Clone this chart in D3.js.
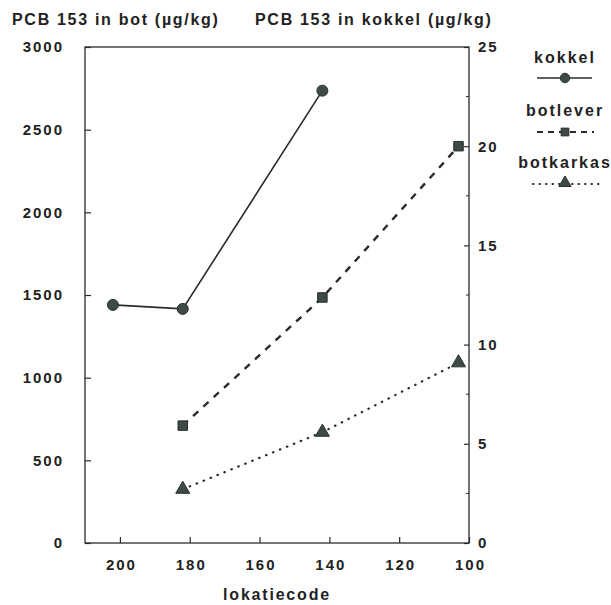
<!DOCTYPE html>
<html>
<head>
<meta charset="utf-8">
<script src="https://cdn.jsdelivr.net/npm/d3@7"></script>
<style>
  body { margin: 0; background: #fff; }
  svg text { font-family: "Liberation Sans", Arial, sans-serif; font-weight: bold; fill: #222; }
</style>
</head>
<body>
<svg id="chart" width="611" height="605"></svg>
<script>
// PCB153 concentrations per sampling location (lokatiecode)
const kokkelCodes = [202, 182, 142];
const kokkelValues = [12.0, 11.8, 22.8];          // µg/kg, right axis
const botleverCodes = [182, 142, 103];
const botleverValues = [710, 1485, 2400];         // µg/kg, left axis
const botkarkasCodes = [182, 142, 103];
const botkarkasValues = [325, 670, 1090];         // µg/kg, left axis

const xTicks = [200, 180, 160, 140, 120, 100];
const yLeftTicks = [0, 500, 1000, 1500, 2000, 2500, 3000];
const yRightTicks = [0, 5, 10, 15, 20, 25];
const yRightMinor = [2.5, 7.5, 12.5, 17.5, 22.5];

const svg = d3.select("#chart");
const ink = "#2b2b2b";
const markFill = "#3d4a45";
const fmt = d3.format("d");

const plotLeft = 85, plotRight = 469, plotTop = 47, plotBottom = 543;

const x = d3.scaleLinear().domain([210, 100]).range([plotLeft, plotRight]);
const yL = d3.scaleLinear().domain([0, 3000]).range([plotBottom, plotTop]);
const yR = d3.scaleLinear().domain([0, 25]).range([plotBottom, plotTop]);

// frame
svg.append("rect")
  .attr("x", plotLeft).attr("y", plotTop)
  .attr("width", plotRight - plotLeft).attr("height", plotBottom - plotTop)
  .attr("fill", "none").attr("stroke", ink).attr("stroke-width", 1.3);

const tickFont = g => g.selectAll("text")
  .style("font-size", "15px").style("letter-spacing", "2px")
  .style("font-family", "'Liberation Sans', Arial, sans-serif")
  .style("font-weight", "bold").attr("fill", "#222");

// bottom axis, ticks pointing inward
svg.append("g").attr("transform", `translate(0,${plotBottom})`)
  .call(d3.axisBottom(x).tickValues(xTicks).tickFormat(fmt).tickSizeInner(-6).tickSizeOuter(0).tickPadding(16))
  .call(g => g.select(".domain").remove())
  .call(g => g.selectAll("line").attr("stroke", ink).attr("stroke-width", 1.2))
  .call(tickFont)
  .call(g => g.selectAll("text").attr("dx", "1px"));

// left axis
svg.append("g").attr("transform", `translate(${plotLeft},0)`)
  .call(d3.axisLeft(yL).tickValues(yLeftTicks).tickFormat(fmt).tickSizeInner(-6).tickSizeOuter(0).tickPadding(21))
  .call(g => g.select(".domain").remove())
  .call(g => g.selectAll("line").attr("stroke", ink).attr("stroke-width", 1.2))
  .call(tickFont);

// right axis with minor ticks
svg.append("g").attr("transform", `translate(${plotRight},0)`)
  .call(d3.axisRight(yR).tickValues(yRightTicks).tickFormat(fmt).tickSizeInner(-5).tickSizeOuter(0).tickPadding(9))
  .call(g => g.select(".domain").remove())
  .call(g => g.selectAll("line").attr("stroke", ink).attr("stroke-width", 1.2))
  .call(tickFont);
svg.append("g").selectAll("line").data(yRightMinor).join("line")
  .attr("x1", plotRight).attr("x2", plotRight - 3)
  .attr("y1", d => yR(d)).attr("y2", d => yR(d))
  .attr("stroke", ink).attr("stroke-width", 1);

// axis titles
svg.append("text").attr("x", 12).attr("y", 25)
  .style("font-size", "16px").style("letter-spacing", "1.7px")
  .text("PCB 153 in bot (µg/kg)");
svg.append("text").attr("x", 255).attr("y", 25)
  .style("font-size", "16px").style("letter-spacing", "1.7px")
  .text("PCB 153 in kokkel (µg/kg)");
svg.append("text").attr("x", 277).attr("y", 600)
  .attr("text-anchor", "middle")
  .style("font-size", "16px").style("letter-spacing", "1.8px")
  .text("lokatiecode");

// series
const kokkel = kokkelCodes.map((c, i) => [c, kokkelValues[i]]);
const botlever = botleverCodes.map((c, i) => [c, botleverValues[i]]);
const botkarkas = botkarkasCodes.map((c, i) => [c, botkarkasValues[i]]);

svg.append("path").datum(kokkel)
  .attr("d", d3.line().x(d => x(d[0])).y(d => yR(d[1])))
  .attr("fill", "none").attr("stroke", ink).attr("stroke-width", 1.6);
svg.append("path").datum(botlever)
  .attr("d", d3.line().x(d => x(d[0])).y(d => yL(d[1])))
  .attr("fill", "none").attr("stroke", ink).attr("stroke-width", 2.4)
  .attr("stroke-dasharray", "7,7");
svg.append("path").datum(botkarkas)
  .attr("d", d3.line().x(d => x(d[0])).y(d => yL(d[1])))
  .attr("fill", "none").attr("stroke", ink).attr("stroke-width", 2.2)
  .attr("stroke-linecap", "round").attr("stroke-dasharray", "0.5,7");

const circ = d3.symbol().type(d3.symbolCircle).size(95);
const sq = d3.symbol().type(d3.symbolSquare).size(90);
const tri = d3.symbol().type(d3.symbolTriangle).size(85);
const circS = d3.symbol().type(d3.symbolCircle).size(70);
const sqS = d3.symbol().type(d3.symbolSquare).size(60);
const triS = d3.symbol().type(d3.symbolTriangle).size(65);

svg.append("g").selectAll("path").data(kokkel).join("path")
  .attr("transform", d => `translate(${x(d[0])},${yR(d[1])})`)
  .attr("d", circ).attr("fill", markFill).attr("stroke", "#2a302d").attr("stroke-width", 1);
svg.append("g").selectAll("path").data(botlever).join("path")
  .attr("transform", d => `translate(${x(d[0])},${yL(d[1])})`)
  .attr("d", sq).attr("fill", markFill).attr("stroke", "#2a302d").attr("stroke-width", 1);
svg.append("g").selectAll("path").data(botkarkas).join("path")
  .attr("transform", d => `translate(${x(d[0])},${yL(d[1])})`)
  .attr("d", tri).attr("fill", markFill).attr("stroke", "#2a302d").attr("stroke-width", 1);

// legend
const lx = 565;
const legend = svg.append("g");
const legendText = (y, label) => legend.append("text").attr("x", lx).attr("y", y)
  .attr("text-anchor", "middle")
  .style("font-size", "16px").style("letter-spacing", "2px").text(label);

legendText(63, "kokkel");
legend.append("line").attr("x1", 537).attr("x2", 592).attr("y1", 78).attr("y2", 78)
  .attr("stroke", ink).attr("stroke-width", 1.3);
legend.append("path").attr("transform", `translate(${lx},78)`).attr("d", circS)
  .attr("fill", markFill).attr("stroke", "#2a302d");

legendText(116, "botlever");
legend.append("line").attr("x1", 537).attr("x2", 594).attr("y1", 132).attr("y2", 132)
  .attr("stroke", ink).attr("stroke-width", 2.2).attr("stroke-dasharray", "6,5");
legend.append("path").attr("transform", `translate(${lx},132)`).attr("d", sqS)
  .attr("fill", markFill).attr("stroke", "#2a302d");

legendText(168, "botkarkas");
legend.append("line").attr("x1", 533).attr("x2", 600).attr("y1", 184).attr("y2", 184)
  .attr("stroke", ink).attr("stroke-width", 2).attr("stroke-linecap", "round")
  .attr("stroke-dasharray", "0.5,6");
legend.append("path").attr("transform", `translate(${lx},183)`).attr("d", triS)
  .attr("fill", markFill).attr("stroke", "#2a302d");
</script>
</body>
</html>
